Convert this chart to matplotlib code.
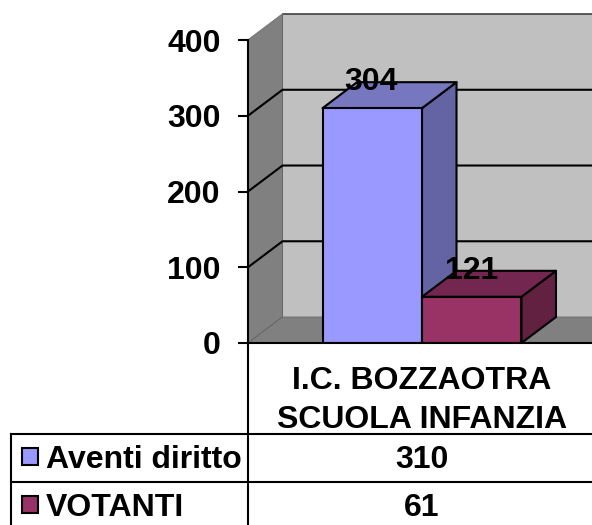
import matplotlib
matplotlib.use("Agg")
import matplotlib.pyplot as plt
from matplotlib.patches import Polygon, Rectangle

plt.rcParams['font.family'] = ['Liberation Sans', 'DejaVu Sans']
plt.rcParams['font.weight'] = 'bold'

series_names = ["Aventi diritto", "VOTANTI"]
series_values = [310, 61]
bar_labels = ["304", "121"]
category = "I.C. BOZZAOTRA\nSCUOLA INFANZIA"
y_ticks = [0, 100, 200, 300, 400]

front_colors = ["#9999ff", "#993366"]
top_colors = ["#7777bf", "#732650"]
side_colors = ["#6464a5", "#632142"]

W, H = 592, 525
FS = 23
LW = 1.5

fig = plt.figure(figsize=(W / 100, H / 100), dpi=100)

# value axes: x is in bar widths, 0 is the middle of the group
ax = fig.add_axes([248 / W, (H - 343) / H, 344 / W, 303 / H])
ax.patch.set_visible(False)
ax.set_xlim(-1.749, 1.709)
ax.set_ylim(0, 400)
dx = 0.347
dy = 34.3
xl, xr = ax.get_xlim()

# walls and floor
ax.add_patch(Polygon([(xl, 0), (xl + dx, dy), (xl + dx, 400 + dy), (xl, 400)], fc="#808080", ec="#555555", lw=0.6, clip_on=False, zorder=1))
ax.add_patch(Polygon([(xl + dx, dy), (xr + 1, dy), (xr + 1, 400 + dy), (xl + dx, 400 + dy)], fc="#c0c0c0", ec="none", clip_on=False, zorder=1))
ax.add_patch(Polygon([(xl, 0), (xl + dx, dy), (xr + 1, dy), (xr + 1, 0)], fc="#808080", ec="#666666", lw=0.6, clip_on=False, zorder=1))
ax.plot([xl + dx, xr + 1], [400 + dy, 400 + dy], color="#404040", lw=1.2, clip_on=False, zorder=2)
ax.plot([xl, xl + dx], [400, 400 + dy], color="#808080", lw=0.8, clip_on=False, zorder=2)

# gridlines
for t in y_ticks[1:-1]:
    ax.plot([xl, xl + dx, xr + 1], [t, t + dy, t + dy], color="black", lw=LW, clip_on=False, zorder=2)

# bars
for i, v in enumerate(series_values):
    x0 = i - 1
    x1 = i
    ax.add_patch(Polygon([(x1, 0), (x1 + dx, dy), (x1 + dx, v + dy), (x1, v)], fc=side_colors[i], ec="black", lw=LW, joinstyle="round", zorder=3 + i))
    ax.add_patch(Polygon([(x0, v), (x0 + dx, v + dy), (x1 + dx, v + dy), (x1, v)], fc=top_colors[i], ec="black", lw=LW, joinstyle="round", zorder=3 + i))
    ax.add_patch(Rectangle((x0, 0), 1, v, fc=front_colors[i], ec="black", lw=LW, zorder=3 + i))
    ax.text(x0 + 0.49 + i * 0.01, v + 24, bar_labels[i], ha="center", va="baseline", fontsize=FS, fontweight="bold", color="black", zorder=6, clip_on=False)

for s in ["top", "right", "bottom"]:
    ax.spines[s].set_visible(False)
ax.spines["left"].set_linewidth(LW)
ax.spines["left"].set_zorder(7)
ax.set_xticks([])
ax.set_yticks(y_ticks)
ax.tick_params(axis="y", length=7.2, width=LW, pad=12.5, labelsize=FS)
ax.plot([xl, xr], [0, 0], color="black", lw=LW, clip_on=False, zorder=7)

# data table below the chart, in pixels
tb = fig.add_axes([0, 0, 1, 1], zorder=5)
tb.patch.set_visible(False)
tb.set_xlim(0, W)
tb.set_ylim(H, 0)
tb.axis("off")

tb.plot([248, 248], [343, H], color="black", lw=LW)
tb.plot([11, 11], [434, H], color="black", lw=LW)
tb.plot([11, W], [434, 434], color="black", lw=LW)
tb.plot([11, W], [482, 482], color="black", lw=LW)

tb.text(422, 428, category, ha="center", va="baseline", fontsize=FS, fontweight="bold", linespacing=1.38, multialignment="center")

rows_y = [468, 516]
swatch_y = [448, 496]
for i, name in enumerate(series_names):
    tb.add_patch(Rectangle((21.5, swatch_y[i]), 16.5, 17, fc=front_colors[i], ec="black", lw=LW))
    tb.text(46, rows_y[i], name, ha="left", va="baseline", fontsize=FS, fontweight="bold")
    tb.text(422, rows_y[i], str(series_values[i]), ha="center", va="baseline", fontsize=FS, fontweight="bold")

fig.savefig("out.png", dpi=100)
